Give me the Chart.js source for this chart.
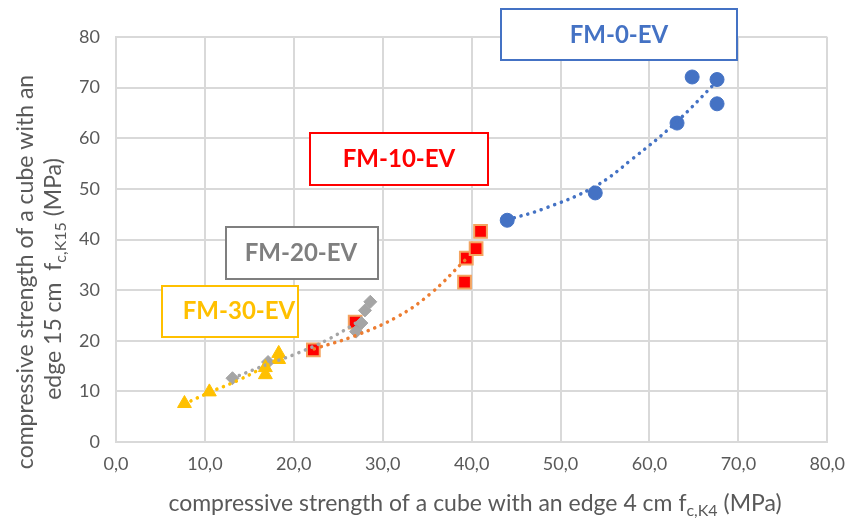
<!DOCTYPE html>
<html>
<head>
<meta charset="utf-8">
<script src="https://cdn.jsdelivr.net/npm/chart.js@4.4.0/dist/chart.umd.min.js"></script>
<style>
  body { margin: 0; background: #fff; }
  #wrap { width: 856px; height: 524px; }
</style>
</head>
<body>
<div id="wrap"><canvas id="chart" width="856" height="524"></canvas></div>
<script>
var fm0X = [44.0, 53.9, 63.1, 64.8, 67.6, 67.6];
var fm0Y = [43.8, 49.2, 63.0, 72.1, 71.6, 66.8];
var fm10X = [22.2, 26.9, 39.2, 39.4, 40.5, 41.0];
var fm10Y = [18.2, 23.7, 31.6, 36.3, 38.2, 41.6];
var fm20X = [13.1, 17.1, 27.0, 27.6, 28.0, 28.6];
var fm20Y = [12.6, 15.8, 21.8, 23.5, 26.0, 27.7];
var fm30X = [7.7, 10.5, 16.8, 16.8, 18.3, 18.3];
var fm30Y = [7.6, 9.9, 13.3, 14.7, 16.3, 17.5];

// dotted trend lines
var fm0TrendX = [44.0, 48.0, 53.8, 58.0, 62.9, 67.4];
var fm0TrendY = [43.9, 46.0, 50.4, 55.8, 63.0, 70.9];
var fm10TrendX = [22.3, 26.9, 31.6, 35.3, 39.3];
var fm10TrendY = [18.4, 21.0, 24.7, 29.2, 36.0];
var fm20TrendX = [13.1, 17.1, 20.5, 24.0, 28.0];
var fm20TrendY = [12.6, 15.4, 17.6, 20.4, 24.6];
var fm30TrendX = [7.7, 10.5, 14.0, 18.3];
var fm30TrendY = [7.5, 9.8, 12.4, 16.4];

var xTicks = [0, 10, 20, 30, 40, 50, 60, 70, 80];
var yTicks = [0, 10, 20, 30, 40, 50, 60, 70, 80];

var seriesNames = ["FM-0-EV", "FM-10-EV", "FM-20-EV", "FM-30-EV"];

function pts(xs, ys) {
    var out = [];
    for (var i = 0; i < xs.length; i++) {
        out.push({x: xs[i], y: ys[i]});
    }
    return out;
}

var FONT = "Lato, 'Open Sans', sans-serif";
var TXT = "#595959";

function trend(xs, ys, color) {
    return {
        type: "line",
        data: pts(xs, ys),
        showLine: true,
        borderColor: color,
        borderWidth: 3.5,
        borderDash: [0.1, 7],
        borderCapStyle: "round",
        tension: 0.4,
        pointRadius: 0,
        fill: false,
        order: 0
    };
}

// draws text with a subscript part, centred on (x, y)
function richText(ctx, parts, x, y, size) {
    var total = 0;
    parts.forEach(function (p) {
        ctx.font = (p.sub ? Math.round(size * 0.68) : size) + "px " + FONT;
        p.w = ctx.measureText(p.t).width;
        total += p.w;
    });
    var cx = x - total / 2;
    parts.forEach(function (p) {
        ctx.font = (p.sub ? Math.round(size * 0.68) : size) + "px " + FONT;
        ctx.fillText(p.t, cx, p.sub ? y + size * 0.3 : y);
        cx += p.w;
    });
}

var labelBoxes = [
    {text: seriesNames[0], color: "#4472C4", x1: 501, y1: 9, x2: 737, y2: 60, tx: 619, ty: 35},
    {text: seriesNames[1], color: "#FF0000", x1: 310, y1: 133, x2: 488, y2: 185, tx: 399, ty: 159},
    {text: seriesNames[2], color: "#7F7F7F", x1: 226, y1: 227, x2: 378, y2: 279, tx: 301, ty: 253},
    {text: seriesNames[3], color: "#FFC000", x1: 162, y1: 286, x2: 298, y2: 337, tx: 239, ty: 311}
];

var decor = {
    id: "decor",
    afterDraw: function (chart) {
        var ctx = chart.ctx;
        ctx.save();
        ctx.textBaseline = "middle";
        ctx.fillStyle = TXT;

        // x axis title
        richText(ctx, [
            {t: "compressive strength of a cube with an edge 4 cm f"},
            {t: "c,K4", sub: true},
            {t: " (MPa)"}
        ], 475, 504, 23);

        // y axis title, two lines
        ctx.save();
        ctx.translate(26, 272);
        ctx.rotate(-Math.PI / 2);
        richText(ctx, [{t: "compressive strength of a cube with an"}], 0, 0, 23);
        ctx.restore();
        ctx.save();
        ctx.translate(54, 279);
        ctx.rotate(-Math.PI / 2);
        richText(ctx, [
            {t: "edge 15 cm  f"},
            {t: "c,K15", sub: true},
            {t: " (MPa)"}
        ], 0, 0, 23);
        ctx.restore();

        // series label boxes
        labelBoxes.forEach(function (b) {
            ctx.fillStyle = "#ffffff";
            ctx.fillRect(b.x1, b.y1, b.x2 - b.x1, b.y2 - b.y1);
            ctx.strokeStyle = b.color;
            ctx.lineWidth = 2;
            ctx.strokeRect(b.x1, b.y1, b.x2 - b.x1, b.y2 - b.y1);
            ctx.fillStyle = b.color;
            ctx.font = "bold 24px " + FONT;
            ctx.textAlign = "center";
            ctx.fillText(b.text, b.tx, b.ty);
        });
        ctx.restore();
    }
};

new Chart(document.getElementById("chart"), {
    type: "scatter",
    data: {
        datasets: [
            trend(fm30TrendX, fm30TrendY, "#FFC000"),
            trend(fm20TrendX, fm20TrendY, "#A5A5A5"),
            trend(fm10TrendX, fm10TrendY, "#ED7D31"),
            trend(fm0TrendX, fm0TrendY, "#4472C4"),
            {
                label: seriesNames[3],
                data: pts(fm30X, fm30Y),
                pointStyle: "triangle",
                pointRadius: 8,
                backgroundColor: "#FFC000",
                borderColor: "#FFC000",
                borderWidth: 1,
                order: 1
            },
            {
                label: seriesNames[2],
                data: pts(fm20X, fm20Y),
                pointStyle: "rectRot",
                pointRadius: 6.5,
                backgroundColor: "#A5A5A5",
                borderColor: "#A5A5A5",
                borderWidth: 1,
                order: 1
            },
            {
                label: seriesNames[1],
                data: pts(fm10X, fm10Y),
                pointStyle: "rect",
                pointRadius: 9,
                backgroundColor: "#FF0000",
                borderColor: "#F4A460",
                borderWidth: 2,
                order: 1
            },
            {
                label: seriesNames[0],
                data: pts(fm0X, fm0Y),
                pointStyle: "circle",
                pointRadius: 7,
                backgroundColor: "#4472C4",
                borderColor: "#4472C4",
                borderWidth: 1,
                order: 1
            }
        ]
    },
    options: {
        responsive: false,
        animation: false,
        layout: {padding: {top: 37, right: 21, bottom: 0, left: 0}},
        plugins: {
            legend: {display: false},
            tooltip: {enabled: false}
        },
        scales: {
            x: {
                type: "linear",
                min: xTicks[0],
                max: xTicks[xTicks.length - 1],
                afterBuildTicks: function (s) {
                    s.ticks = xTicks.map(function (v) { return {value: v}; });
                },
                afterFit: function (s) { s.height = 82; },
                grid: {color: "#D9D9D9", lineWidth: 2, drawTicks: false},
                border: {color: "#D9D9D9", width: 2},
                ticks: {
                    padding: 11,
                    color: TXT,
                    font: {family: FONT, size: 18},
                    callback: function (v) { return v.toFixed(1).replace(".", ","); }
                }
            },
            y: {
                type: "linear",
                min: yTicks[0],
                max: yTicks[yTicks.length - 1],
                afterBuildTicks: function (s) {
                    s.ticks = yTicks.map(function (v) { return {value: v}; });
                },
                afterFit: function (s) { s.width = 116; },
                grid: {color: "#D9D9D9", lineWidth: 2, drawTicks: false},
                border: {color: "#D9D9D9", width: 2},
                ticks: {
                    padding: 16,
                    color: TXT,
                    font: {family: FONT, size: 18}
                }
            }
        }
    },
    plugins: [decor]
});
</script>
</body>
</html>
